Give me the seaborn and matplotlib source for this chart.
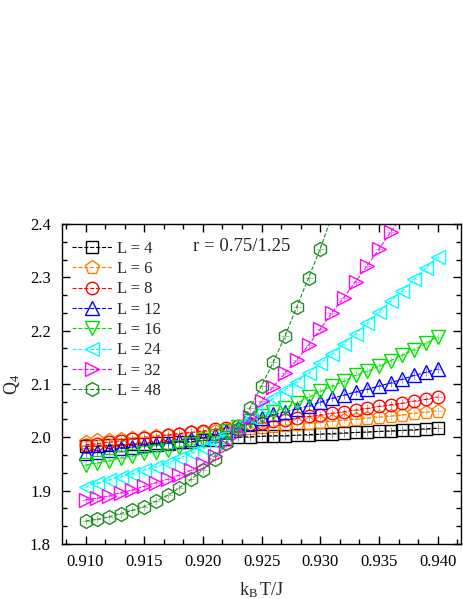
import numpy as np
import matplotlib
matplotlib.use("Agg")
import matplotlib.pyplot as plt
import seaborn as sns
from matplotlib.ticker import MultipleLocator, AutoMinorLocator

# temperatures (k_B T / J)
T = [0.910, 0.911, 0.912, 0.913, 0.914, 0.915, 0.916, 0.917, 0.918, 0.919,
     0.920, 0.921, 0.922, 0.923, 0.924, 0.925, 0.926, 0.927, 0.928, 0.929,
     0.930, 0.931, 0.932, 0.933, 0.934, 0.935, 0.936, 0.937, 0.938, 0.939,
     0.940]

# Q4 for each system size
q_L4 = [1.983, 1.984, 1.985, 1.986, 1.987, 1.988, 1.989, 1.990, 1.991, 1.992,
        1.994, 1.995, 1.997, 2.000, 2.001, 2.002, 2.003, 2.003, 2.004, 2.005,
        2.006, 2.007, 2.008, 2.009, 2.010, 2.011, 2.012, 2.013, 2.014, 2.016,
        2.017]
q_L6 = [1.992, 1.994, 1.995, 1.997, 1.999, 2.001, 2.003, 2.005, 2.007, 2.009,
        2.010, 2.012, 2.014, 2.016, 2.018, 2.020, 2.021, 2.023, 2.024, 2.026,
        2.028, 2.030, 2.032, 2.034, 2.036, 2.038, 2.040, 2.042, 2.045, 2.047,
        2.050]
q_L8 = [1.986, 1.988, 1.991, 1.993, 1.996, 1.998, 2.001, 2.004, 2.007, 2.009,
        2.012, 2.015, 2.018, 2.021, 2.024, 2.027, 2.030, 2.033, 2.036, 2.039,
        2.042, 2.045, 2.048, 2.051, 2.054, 2.058, 2.061, 2.064, 2.068, 2.071,
        2.076]
q_L12 = [1.970, 1.973, 1.976, 1.979, 1.982, 1.985, 1.988, 1.990, 1.993, 1.996,
         1.999, 2.004, 2.011, 2.018, 2.027, 2.036, 2.043, 2.048, 2.053, 2.059,
         2.066, 2.073, 2.079, 2.085, 2.090, 2.096, 2.102, 2.109, 2.116, 2.122,
         2.128]
q_L16 = [1.948, 1.952, 1.956, 1.961, 1.965, 1.970, 1.973, 1.977, 1.982, 1.987,
         1.994, 2.002, 2.011, 2.020, 2.030, 2.040, 2.048, 2.055, 2.064, 2.075,
         2.086, 2.096, 2.105, 2.116, 2.124, 2.133, 2.144, 2.154, 2.164, 2.176,
         2.189]
q_L24 = [1.907, 1.914, 1.920, 1.926, 1.932, 1.939, 1.945, 1.952, 1.961, 1.970,
         1.979, 1.992, 2.007, 2.022, 2.038, 2.056, 2.073, 2.089, 2.104, 2.120,
         2.139, 2.156, 2.175, 2.194, 2.214, 2.235, 2.255, 2.275, 2.296, 2.317,
         2.339]
q_L32 = [1.883, 1.886, 1.890, 1.896, 1.901, 1.908, 1.915, 1.921, 1.929, 1.938,
         1.949, 1.965, 1.984, 2.008, 2.038, 2.068, 2.095, 2.120, 2.145, 2.173,
         2.203, 2.234, 2.262, 2.292, 2.322, 2.353, 2.385, 2.416]
q_L48 = [1.843, 1.846, 1.851, 1.857, 1.863, 1.870, 1.880, 1.891, 1.905, 1.921,
         1.939, 1.960, 1.989, 2.016, 2.055, 2.097, 2.141, 2.190, 2.245, 2.299,
         2.354, 2.416]

sizes = [4, 6, 8, 12, 16, 24, 32, 48]
series = [q_L4, q_L6, q_L8, q_L12, q_L16, q_L24, q_L32, q_L48]
colors = ["#000000", "#FF8000", "#FF0000", "#0000FF", "#00E000", "#00FFFF", "#FF00FF", "#1E8C1E"]
markers = ["s", "p", "o", "^", "v", "<", ">", "h"]
msizes = [8.5, 10, 9, 10, 10, 10, 10, 10]

sns.set_theme(style="ticks")
plt.rcParams["font.family"] = ["Liberation Serif", "DejaVu Serif"]
plt.rcParams["mathtext.fontset"] = "custom"
plt.rcParams["mathtext.rm"] = "Liberation Serif"
plt.rcParams["mathtext.it"] = "Liberation Serif:italic"

fig = plt.figure(figsize=(4.63, 5.99), dpi=100)
ax = fig.add_axes([0.134, 0.092, 0.862, 0.534])

for L, q, c, m, ms in zip(sizes, series, colors, markers, msizes):
    x = T[:len(q)]
    sns.lineplot(x=x, y=q, ax=ax, color=c, linestyle="--", linewidth=0.8,
                 marker=m, markersize=ms, markerfacecolor="none",
                 markeredgecolor=c, markeredgewidth=1.0, label=f"L = {L}")
    # small error-bar crosses inside the symbols
    ax.scatter(x, q, marker="+", s=ms * 3.0, color=c, linewidths=0.6,
               alpha=0.5, zorder=3)

handles, labels = ax.get_legend_handles_labels()
leg = ax.legend(handles, labels, loc="upper left", bbox_to_anchor=(-0.016, 1.0),
                frameon=False, fontsize=12, handlelength=2.4, handletextpad=0.3,
                labelspacing=0.26, borderaxespad=0.6, borderpad=0.4, numpoints=1)

ax.text(0.328, 0.929, "r = 0.75/1.25", transform=ax.transAxes,
        fontsize=13.5, va="center", ha="left")

ax.set_xlim(0.908, 0.942)
ax.set_ylim(1.8, 2.4)
ax.xaxis.set_major_locator(MultipleLocator(0.005))
ax.yaxis.set_major_locator(MultipleLocator(0.1))
ax.xaxis.set_minor_locator(AutoMinorLocator(3))
ax.yaxis.set_minor_locator(AutoMinorLocator(3))
ax.xaxis.set_major_formatter(matplotlib.ticker.FormatStrFormatter("%.3f"))
ax.yaxis.set_major_formatter(matplotlib.ticker.FormatStrFormatter("%.1f"))
ax.tick_params(which="both", direction="in", top=True, right=True,
               labelsize=12, colors="black", width=1.0)
ax.tick_params(which="major", length=6)
ax.tick_params(axis="y", which="major", pad=8)
ax.tick_params(axis="x", which="major", pad=7)
ax.tick_params(which="minor", length=3.5)
for sp in ax.spines.values():
    sp.set_linewidth(1.0)
    sp.set_color("black")

ax.set_xlabel(r"$\mathrm{k_B}\,\mathrm{T/J}$", fontsize=13, labelpad=8)
ax.set_ylabel(r"$\mathrm{Q_4}$", fontsize=13, labelpad=6)

fig.savefig("out.png", dpi=100)
